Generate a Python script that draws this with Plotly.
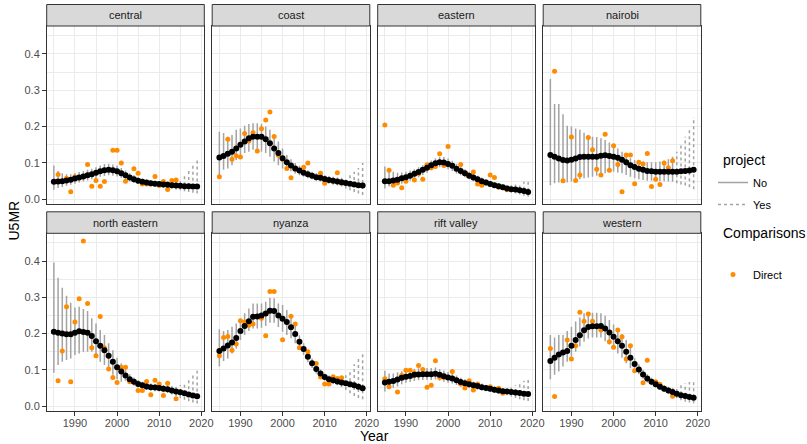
import plotly.graph_objects as go

years = list(range(1985, 2020))
project = ["No"] * 30 + ["Yes"] * 5
regions = ["central", "coast", "eastern", "nairobi",
           "north eastern", "nyanza", "rift valley", "western"]
x_ticks = [1990, 2000, 2010, 2020]
x_minor = [1985, 1995, 2005, 2015]
y_ticks = [0.0, 0.1, 0.2, 0.3, 0.4]
y_tick_labels = ["0.0", "0.1", "0.2", "0.3", "0.4"]
y_minor = [0.05, 0.15, 0.25, 0.35, 0.45]

# ---- estimates (black) and uncertainty bounds (grey bars) ----
central_est = [0.048,0.049,0.050,0.052,0.054,0.057,0.060,0.063,0.066,0.069,0.073,0.077,0.080,0.081,0.080,0.077,0.072,0.066,0.060,0.055,0.051,0.048,0.046,0.044,0.043,0.042,0.041,0.040,0.039,0.038,0.037,0.036,0.036,0.035,0.035]
central_lo = [0.026,0.031,0.034,0.037,0.040,0.043,0.046,0.049,0.052,0.055,0.058,0.062,0.064,0.066,0.065,0.063,0.059,0.054,0.049,0.045,0.042,0.040,0.038,0.036,0.035,0.034,0.032,0.031,0.029,0.027,0.025,0.022,0.020,0.018,0.016]
central_hi = [0.093,0.078,0.072,0.069,0.069,0.072,0.075,0.078,0.081,0.084,0.088,0.093,0.097,0.098,0.096,0.092,0.086,0.079,0.072,0.066,0.061,0.057,0.054,0.052,0.051,0.050,0.050,0.050,0.050,0.050,0.056,0.066,0.078,0.092,0.108]

coast_est = [0.115,0.119,0.125,0.131,0.140,0.150,0.159,0.168,0.172,0.172,0.172,0.165,0.154,0.140,0.127,0.113,0.102,0.093,0.085,0.079,0.073,0.069,0.065,0.061,0.059,0.056,0.053,0.051,0.049,0.047,0.045,0.043,0.041,0.039,0.038]
coast_lo = [0.067,0.081,0.085,0.094,0.108,0.117,0.127,0.131,0.136,0.136,0.131,0.127,0.117,0.104,0.094,0.085,0.083,0.077,0.071,0.066,0.062,0.058,0.055,0.051,0.049,0.046,0.043,0.040,0.038,0.035,0.030,0.025,0.020,0.016,0.012]
coast_hi = [0.186,0.182,0.172,0.177,0.191,0.195,0.202,0.207,0.209,0.209,0.207,0.200,0.191,0.177,0.159,0.140,0.122,0.110,0.100,0.092,0.085,0.080,0.076,0.072,0.069,0.066,0.064,0.062,0.060,0.059,0.062,0.068,0.076,0.086,0.100]

eastern_est = [0.050,0.050,0.052,0.054,0.058,0.061,0.065,0.070,0.075,0.081,0.087,0.094,0.099,0.102,0.101,0.097,0.092,0.084,0.078,0.072,0.065,0.060,0.055,0.050,0.046,0.042,0.039,0.036,0.033,0.030,0.028,0.027,0.025,0.023,0.020]
eastern_lo = [0.030,0.035,0.037,0.039,0.043,0.046,0.051,0.056,0.061,0.067,0.073,0.080,0.085,0.088,0.087,0.083,0.078,0.071,0.066,0.061,0.055,0.050,0.045,0.041,0.037,0.034,0.031,0.028,0.025,0.023,0.019,0.016,0.013,0.010,0.007]
eastern_hi = [0.090,0.081,0.076,0.073,0.074,0.076,0.079,0.083,0.088,0.094,0.100,0.107,0.113,0.117,0.116,0.112,0.106,0.098,0.090,0.083,0.076,0.070,0.065,0.060,0.055,0.051,0.047,0.044,0.041,0.038,0.039,0.041,0.044,0.048,0.053]

nairobi_est = [0.122,0.117,0.112,0.108,0.107,0.109,0.112,0.116,0.117,0.117,0.117,0.117,0.120,0.121,0.119,0.117,0.114,0.109,0.102,0.094,0.089,0.084,0.081,0.078,0.077,0.076,0.076,0.076,0.076,0.076,0.076,0.077,0.078,0.079,0.081]
nairobi_lo = [0.039,0.044,0.046,0.049,0.046,0.049,0.053,0.055,0.058,0.060,0.062,0.065,0.070,0.072,0.074,0.076,0.074,0.072,0.067,0.062,0.058,0.055,0.053,0.051,0.051,0.050,0.050,0.050,0.049,0.048,0.044,0.041,0.038,0.033,0.028]
nairobi_hi = [0.331,0.262,0.262,0.234,0.202,0.200,0.195,0.191,0.183,0.177,0.172,0.171,0.168,0.163,0.156,0.152,0.140,0.131,0.119,0.113,0.108,0.104,0.104,0.102,0.102,0.102,0.104,0.106,0.110,0.117,0.131,0.154,0.172,0.195,0.226]

ne_est = [0.205,0.202,0.200,0.198,0.198,0.202,0.206,0.204,0.202,0.193,0.179,0.166,0.154,0.139,0.122,0.107,0.095,0.084,0.074,0.067,0.061,0.057,0.054,0.052,0.051,0.050,0.048,0.046,0.043,0.040,0.038,0.035,0.032,0.029,0.027]
ne_lo = [0.092,0.113,0.122,0.127,0.131,0.141,0.145,0.150,0.150,0.150,0.136,0.122,0.113,0.099,0.086,0.074,0.067,0.070,0.062,0.056,0.051,0.047,0.044,0.042,0.041,0.040,0.038,0.036,0.032,0.028,0.022,0.017,0.013,0.010,0.007]
ne_hi = [0.396,0.354,0.326,0.304,0.285,0.272,0.274,0.268,0.262,0.242,0.228,0.210,0.196,0.173,0.154,0.133,0.118,0.100,0.088,0.079,0.072,0.067,0.064,0.062,0.061,0.060,0.058,0.057,0.055,0.053,0.058,0.065,0.075,0.085,0.097]

nyanza_est = [0.152,0.159,0.167,0.175,0.188,0.207,0.221,0.234,0.246,0.247,0.250,0.255,0.263,0.262,0.250,0.241,0.232,0.217,0.199,0.177,0.157,0.136,0.118,0.102,0.090,0.080,0.074,0.071,0.068,0.065,0.063,0.060,0.057,0.053,0.049]
nyanza_lo = [0.109,0.124,0.131,0.145,0.159,0.182,0.196,0.207,0.214,0.214,0.216,0.221,0.230,0.230,0.218,0.205,0.196,0.187,0.173,0.160,0.141,0.121,0.105,0.090,0.079,0.070,0.064,0.061,0.057,0.052,0.044,0.035,0.028,0.022,0.019]
nyanza_hi = [0.212,0.207,0.210,0.219,0.228,0.242,0.256,0.269,0.283,0.283,0.283,0.288,0.299,0.297,0.283,0.279,0.265,0.246,0.223,0.195,0.173,0.151,0.131,0.114,0.101,0.090,0.084,0.081,0.079,0.078,0.085,0.100,0.115,0.130,0.150]

rift_est = [0.065,0.067,0.069,0.073,0.078,0.081,0.083,0.086,0.087,0.088,0.088,0.088,0.089,0.086,0.082,0.079,0.076,0.071,0.066,0.063,0.060,0.057,0.055,0.052,0.050,0.048,0.045,0.043,0.041,0.040,0.039,0.037,0.036,0.034,0.033]
rift_lo = [0.040,0.047,0.050,0.054,0.060,0.064,0.066,0.069,0.071,0.072,0.072,0.072,0.073,0.070,0.067,0.064,0.062,0.058,0.054,0.052,0.050,0.047,0.045,0.043,0.041,0.039,0.036,0.034,0.032,0.030,0.026,0.022,0.019,0.016,0.014]
rift_hi = [0.097,0.090,0.090,0.093,0.096,0.099,0.100,0.103,0.104,0.105,0.105,0.105,0.106,0.102,0.098,0.094,0.090,0.084,0.078,0.074,0.071,0.067,0.065,0.062,0.059,0.057,0.054,0.052,0.050,0.049,0.053,0.057,0.063,0.070,0.078]

western_est = [0.124,0.133,0.142,0.148,0.152,0.166,0.182,0.195,0.209,0.218,0.220,0.220,0.221,0.214,0.203,0.191,0.179,0.166,0.150,0.133,0.116,0.101,0.087,0.076,0.067,0.060,0.053,0.048,0.043,0.039,0.034,0.030,0.028,0.025,0.023]
western_lo = [0.074,0.086,0.095,0.109,0.122,0.136,0.150,0.164,0.177,0.186,0.189,0.189,0.189,0.179,0.170,0.157,0.145,0.133,0.118,0.104,0.100,0.088,0.075,0.065,0.057,0.051,0.044,0.039,0.034,0.029,0.022,0.016,0.012,0.010,0.008]
western_hi = [0.196,0.189,0.196,0.196,0.207,0.219,0.233,0.244,0.256,0.258,0.257,0.257,0.256,0.249,0.237,0.225,0.212,0.198,0.182,0.164,0.132,0.115,0.100,0.088,0.078,0.070,0.063,0.058,0.053,0.050,0.050,0.058,0.063,0.066,0.072]

# ---- direct comparisons (orange) ----
central_dir_year = [1986,1988,1989,1990,1993,1994,1995,1996,1997,1999,2000,2001,2002,2004,2005,2006,2007,2008,2009,2010,2011,2012,2013,2014]
central_dir_val = [0.068,0.058,0.021,0.062,0.096,0.036,0.052,0.036,0.049,0.135,0.135,0.100,0.050,0.084,0.072,0.042,0.042,0.042,0.063,0.038,0.049,0.027,0.052,0.053]
coast_dir_year = [1985,1987,1988,1989,1990,1991,1992,1993,1994,1995,1996,1997,1998,1999,2000,2001,2002,2003,2005,2006,2008,2009,2010,2013,2014]
coast_dir_val = [0.062,0.165,0.110,0.120,0.116,0.181,0.160,0.183,0.133,0.194,0.218,0.240,0.173,0.121,0.110,0.085,0.059,0.083,0.088,0.100,0.060,0.072,0.044,0.073,0.044]
eastern_dir_year = [1985,1986,1987,1988,1989,1990,1992,1993,1994,1995,1996,1997,1998,1999,2000,2003,2004,2006,2007,2008,2010,2011,2012,2014]
eastern_dir_val = [0.204,0.080,0.039,0.045,0.032,0.050,0.053,0.070,0.055,0.095,0.087,0.090,0.125,0.093,0.145,0.096,0.070,0.075,0.042,0.039,0.067,0.060,0.033,0.026]
nairobi_dir_year = [1986,1988,1990,1991,1992,1994,1995,1996,1997,1998,1999,2000,2001,2002,2003,2004,2005,2006,2007,2008,2009,2010,2011,2012,2013,2014]
nairobi_dir_val = [0.352,0.051,0.171,0.052,0.067,0.170,0.136,0.083,0.067,0.179,0.080,0.147,0.096,0.021,0.122,0.122,0.043,0.102,0.097,0.126,0.035,0.055,0.041,0.100,0.087,0.106]
ne_dir_year = [1986,1987,1988,1989,1990,1991,1992,1993,1994,1995,1996,1997,1998,1999,2000,2001,2002,2003,2005,2006,2007,2008,2009,2010,2011,2012,2014]
ne_dir_val = [0.070,0.152,0.274,0.067,0.232,0.296,0.455,0.283,0.161,0.139,0.247,0.161,0.102,0.079,0.065,0.107,0.107,0.067,0.043,0.043,0.068,0.031,0.071,0.061,0.029,0.063,0.020]
nyanza_dir_year = [1985,1986,1987,1988,1989,1990,1991,1992,1993,1995,1996,1997,1998,2000,2002,2003,2004,2006,2008,2009,2010,2011,2012,2013,2014]
nyanza_dir_val = [0.139,0.189,0.192,0.154,0.171,0.235,0.232,0.223,0.226,0.242,0.194,0.316,0.316,0.183,0.248,0.226,0.161,0.150,0.117,0.080,0.061,0.061,0.081,0.076,0.078]
rift_dir_year = [1985,1986,1988,1989,1990,1991,1992,1993,1994,1995,1996,1997,1998,1999,2001,2003,2004,2005,2006,2007,2010,2012,2013]
rift_dir_val = [0.075,0.053,0.039,0.085,0.099,0.099,0.092,0.112,0.101,0.052,0.057,0.125,0.079,0.079,0.095,0.061,0.050,0.070,0.044,0.061,0.053,0.049,0.035]
western_dir_year = [1985,1986,1989,1990,1991,1992,1993,1994,1995,1997,1999,2000,2001,2002,2003,2004,2005,2007,2008,2010,2011,2014]
western_dir_val = [0.159,0.026,0.182,0.130,0.166,0.259,0.234,0.254,0.234,0.210,0.177,0.162,0.210,0.191,0.130,0.166,0.097,0.064,0.126,0.067,0.060,0.027]

panels = [
    (central_est, central_lo, central_hi, central_dir_year, central_dir_val),
    (coast_est, coast_lo, coast_hi, coast_dir_year, coast_dir_val),
    (eastern_est, eastern_lo, eastern_hi, eastern_dir_year, eastern_dir_val),
    (nairobi_est, nairobi_lo, nairobi_hi, nairobi_dir_year, nairobi_dir_val),
    (ne_est, ne_lo, ne_hi, ne_dir_year, ne_dir_val),
    (nyanza_est, nyanza_lo, nyanza_hi, nyanza_dir_year, nyanza_dir_val),
    (rift_est, rift_lo, rift_hi, rift_dir_year, rift_dir_val),
    (western_est, western_lo, western_hi, western_dir_year, western_dir_val),
]

W, H = 807, 444
FONT = "Liberation Sans, Arial, Helvetica, sans-serif"
BAR_COLOR = "#A3A3A3"
ORANGE = "#FF8C00"
TICK_SIZE = 11
TITLE_SIZE = 14
col_px = [(46.7, 204.3), (212.2, 369.8), (377.7, 535.3), (543.2, 700.8)]
row_px = [(26.0, 204.3), (233.3, 411.0)]
STRIP_H = 21.5

fig = go.Figure()
layout = dict(width=W, height=H, margin=dict(l=0, r=0, t=0, b=0, autoexpand=False),
              paper_bgcolor="white", plot_bgcolor="white",
              font=dict(family=FONT, color="#000000"), shapes=[], annotations=[])

for i, (est, lo, hi, dyear, dval) in enumerate(panels):
    r, c = divmod(i, 4)
    sfx = "" if i == 0 else str(i + 1)
    xa, ya = "x" + sfx, "y" + sfx
    x0, x1 = col_px[c]
    y0, y1 = row_px[r]
    bottom = r == 1
    left = c == 0
    layout["xaxis" + sfx] = dict(
        domain=[x0 / W, x1 / W], anchor=ya, range=[1983.3, 2020.7], automargin=False,
        tickvals=x_ticks, showticklabels=bottom, ticklabelstandoff=-2,
        ticks="outside" if bottom else "", ticklen=3.7, tickwidth=1, tickcolor="#333333",
        tickfont=dict(size=TICK_SIZE, color="#4D4D4D", family=FONT),
        showgrid=True, gridcolor="#EBEBEB", gridwidth=1.1,
        minor=dict(tickvals=x_minor, showgrid=True, gridcolor="#EBEBEB", gridwidth=0.55, ticks=""),
        zeroline=False, showline=True, mirror=True, linecolor="#333333", linewidth=1)
    layout["yaxis" + sfx] = dict(
        domain=[1 - y1 / H, 1 - y0 / H], anchor=xa, range=[-0.0137, 0.4765], automargin=False,
        tickvals=y_ticks, ticktext=y_tick_labels, showticklabels=left,
        ticks="outside" if left else "", ticklen=3.7, tickwidth=1, tickcolor="#333333",
        tickfont=dict(size=TICK_SIZE, color="#4D4D4D", family=FONT),
        showgrid=True, gridcolor="#EBEBEB", gridwidth=1.1,
        minor=dict(tickvals=y_minor, showgrid=True, gridcolor="#EBEBEB", gridwidth=0.55, ticks=""),
        zeroline=False, showline=True, mirror=True, linecolor="#333333", linewidth=1)
    # strip
    layout["shapes"].append(dict(type="rect", xref="paper", yref="paper",
                                 x0=x0 / W, x1=x1 / W, y0=1 - y0 / H, y1=1 - (y0 - STRIP_H) / H,
                                 fillcolor="#D9D9D9", line=dict(color="#333333", width=1)))
    layout["annotations"].append(dict(text=regions[i], xref="paper", yref="paper",
                                      x=(x0 + x1) / 2 / W, y=1 - (y0 - STRIP_H / 2) / H,
                                      showarrow=False, xanchor="center", yanchor="middle",
                                      font=dict(size=TICK_SIZE, color="#1A1A1A", family=FONT)))
    # uncertainty bars
    for proj, dash in (("No", "solid"), ("Yes", "3px,3px")):
        bx, by = [], []
        for yr, p, l, h in zip(years, project, lo, hi):
            if p == proj:
                bx += [yr, yr, None]
                by += [l, h, None]
        fig.add_trace(go.Scatter(x=bx, y=by, mode="lines", xaxis=xa, yaxis=ya,
                                 line=dict(color=BAR_COLOR, width=1.5, dash=dash),
                                 name=proj, legend="legend", legendgroup=proj,
                                 showlegend=(i == 0), hoverinfo="skip"))
    # direct comparisons
    fig.add_trace(go.Scatter(x=dyear, y=dval, mode="markers", xaxis=xa, yaxis=ya,
                             marker=dict(color=ORANGE, size=5),
                             name="Direct", legend="legend2", showlegend=(i == 0)))
    # estimates
    fig.add_trace(go.Scatter(x=years, y=est, mode="markers", xaxis=xa, yaxis=ya,
                             marker=dict(color="#000000", size=6), showlegend=False))

def title_ann(text, x, y, angle=0, anchor="center"):
    return dict(text=text, xref="paper", yref="paper", x=x / W, y=1 - y / H,
                showarrow=False, textangle=angle, xanchor=anchor, yanchor="middle",
                font=dict(size=TITLE_SIZE, color="#000000", family=FONT))

layout["annotations"].append(title_ann("Year", 374, 435.8))
layout["annotations"].append(title_ann("U5MR", 13.5, 220, angle=-90))
layout["annotations"].append(title_ann("project", 721, 160, anchor="left"))
layout["annotations"].append(title_ann("Comparisons", 721, 233, anchor="left"))
layout["legend"] = dict(x=713 / W, y=1 - 168 / H, xanchor="left", yanchor="top",
                        font=dict(size=TICK_SIZE, family=FONT), tracegroupgap=3,
                        bgcolor="rgba(0,0,0,0)", itemwidth=30)
layout["legend2"] = dict(x=713 / W, y=1 - 260 / H, xanchor="left", yanchor="top",
                         font=dict(size=TICK_SIZE, family=FONT),
                         bgcolor="rgba(0,0,0,0)", itemwidth=30)
fig.update_layout(**layout)
fig.write_html("out.html", config={"displayModeBar": False},
               post_script="document.body.style.margin='0';document.body.style.padding='0';")
